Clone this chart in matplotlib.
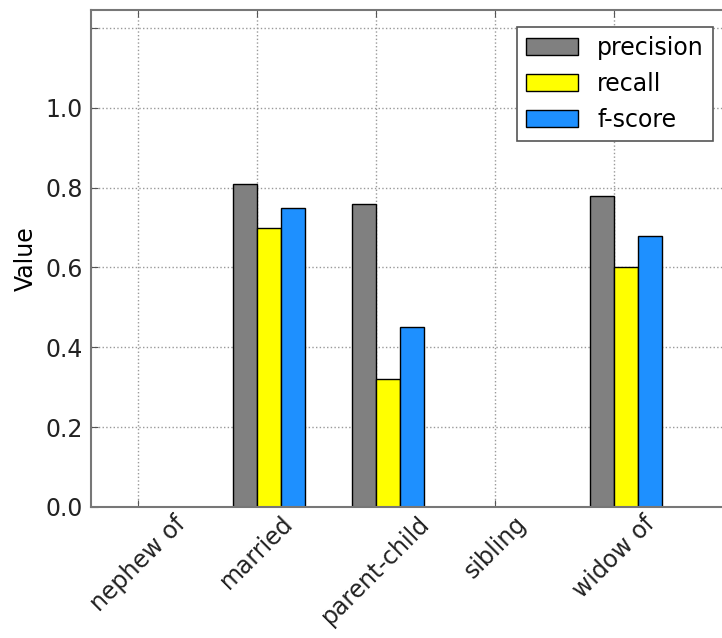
import matplotlib
matplotlib.use("Agg")
import matplotlib.pyplot as plt
import numpy as np

categories = ["nephew of", "married", "parent-child", "sibling", "widow of"]
precision = [0.0, 0.81, 0.76, 0.0, 0.78]
recall = [0.0, 0.70, 0.32, 0.0, 0.60]
fscore = [0.0, 0.75, 0.45, 0.0, 0.68]
series_names = ["precision", "recall", "f-score"]
colors = ["#808080", "#ffff00", "#1e90ff"]
yticks = [0.0, 0.2, 0.4, 0.6, 0.8, 1.0, 1.2]
ytick_labels = ["0.0", "0.2", "0.4", "0.6", "0.8", "1.0", ""]

fig = plt.figure(figsize=(7.22, 6.38), dpi=100, facecolor="white")
ax = fig.add_axes([91/722, 1 - 507/638, (730 - 91)/722, (507 - 10)/638])

x = np.arange(len(categories))
w = 0.2
for k, (vals, name, c) in enumerate(zip([precision, recall, fscore], series_names, colors)):
    ax.bar(x + (k - 1) * w, vals, width=w, align="edge", color=c,
           edgecolor="black", linewidth=1, label=name, zorder=2)

ax.set_xlim(-0.395, 4.975)
ax.set_ylim(0, 1.245)
ax.set_xticks(x)
ax.set_xticklabels(categories, rotation=45, ha="center", fontsize=17)
ax.set_yticks(yticks)
ax.set_yticklabels(ytick_labels, fontsize=17)
ax.set_ylabel("Value", fontsize=17, labelpad=5)
ax.tick_params(direction="in", top=True, right=True, length=5, color="#555555",
               labelcolor="#222222")
ax.tick_params(axis="x", pad=3)
ax.tick_params(axis="y", pad=6)
ax.grid(True, linestyle=":", color="#999999", linewidth=1, zorder=0)
ax.set_axisbelow(True)
for s in ax.spines.values():
    s.set_color("#777777")
    s.set_linewidth(1.5)

leg = ax.legend(loc="upper right", fontsize=17, fancybox=False, edgecolor="#555555",
                handlelength=2.2, borderaxespad=0.7, labelspacing=0.5, framealpha=1)
leg.get_frame().set_linewidth(1.2)

fig.savefig("out.png", dpi=100, facecolor="white")
